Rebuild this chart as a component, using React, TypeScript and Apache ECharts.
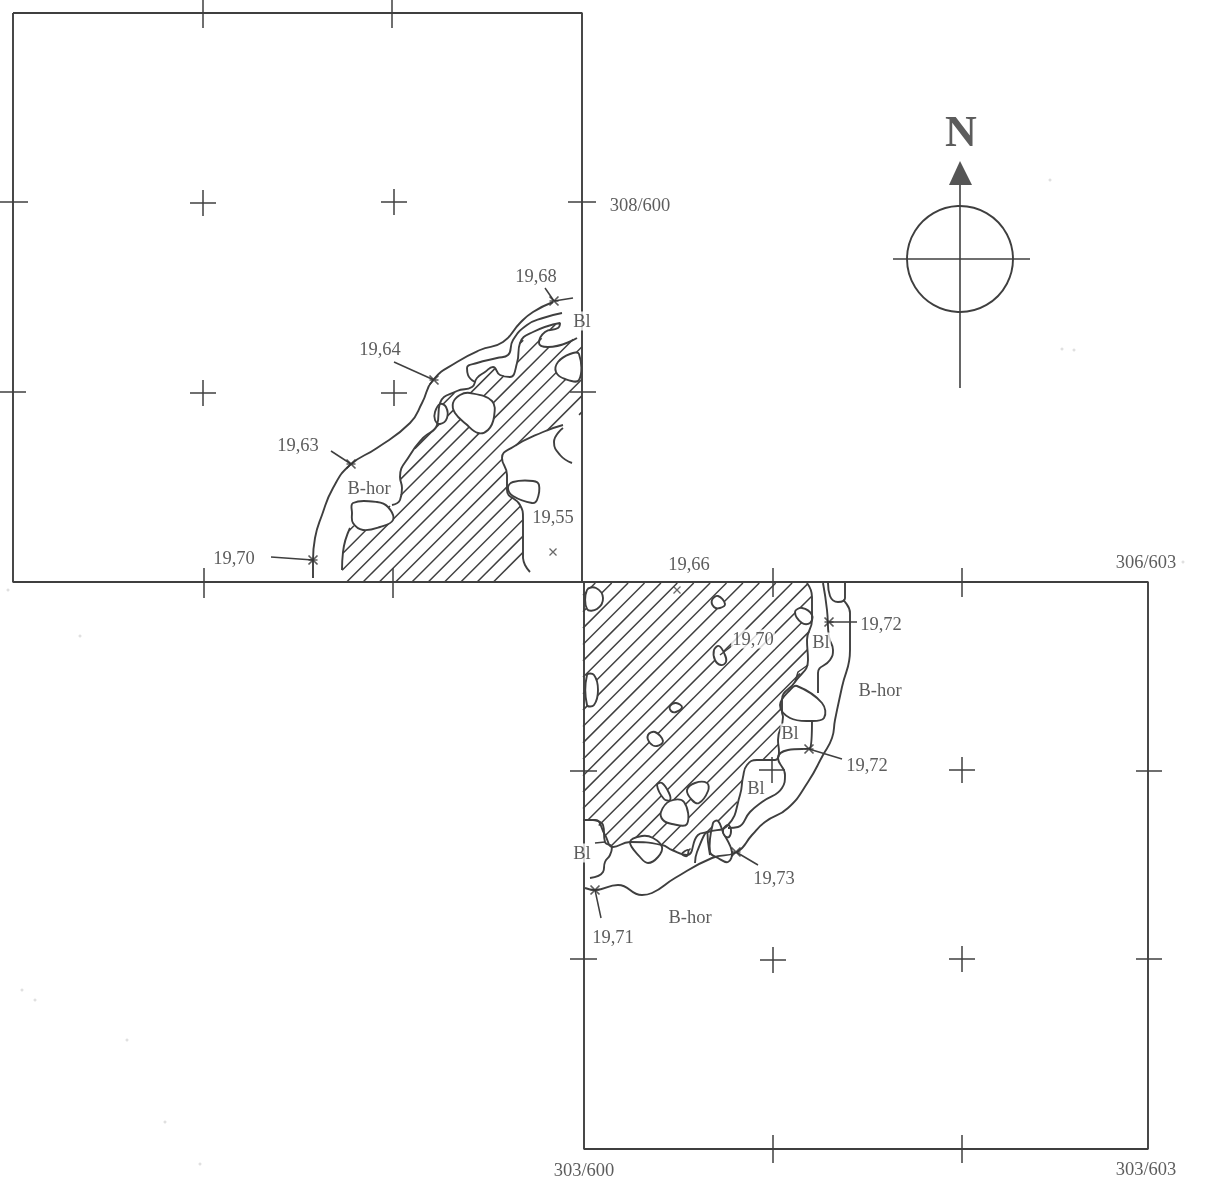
import React, { useEffect, useRef } from "react";
import * as echarts from "echarts";

type P = [number, number];
const INK = "#3f3f3f";
const WIDTH = 1207;
const HEIGHT = 1185;

// Plan coordinates, x to the east, y down the sheet.
const FRAME_NW: P[] = [[13, 13], [582, 13], [582, 582], [13, 582], [13, 13]];
const FRAME_SE: P[] = [[582, 582], [1148, 582], [1148, 1149], [584, 1149], [584, 582]];
const TICKS_V: number[][] = [
  [203, 0, 28], [392, 0, 28], [204, 568, 598], [393, 568, 598],
  [773, 568, 597], [962, 568, 597], [773, 1135, 1163], [962, 1135, 1163],
];
const TICKS_H: number[][] = [
  [202, 0, 28], [392, 0, 26], [202, 568, 596], [392, 570, 596],
  [771, 570, 597], [959, 570, 597], [771, 1136, 1162], [959, 1136, 1162],
];
const CROSSES: P[] = [
  [203, 203], [394, 202], [203, 393], [394, 393],
  [772, 770], [962, 770], [773, 960], [962, 959],
];

const NW_LEFT_EDGE: P[] = [[342, 570], [343, 552], [350, 528]];
const NW_UPPER_EDGE: P[] = [
  [392, 505], [400, 500], [402, 488], [400, 477], [410, 455], [423, 438], [437, 425], [440, 403],
  [457, 391], [472, 387], [477, 378], [485, 372], [493, 367], [500, 375], [510, 377], [517, 363],
  [520, 343], [533, 332], [560, 323], [558, 328], [545, 332], [539, 343], [548, 347], [577, 338],
];
const NW_RIGHT_EDGE: P[] = [
  [563, 425], [543, 432], [513, 447], [502, 458], [507, 475], [507, 490], [520, 505], [523, 518], [523, 558],
];
const NW_HATCH: P[] = [
  [347, 582], ...NW_LEFT_EDGE, ...NW_UPPER_EDGE, [582, 338], [582, 413], ...NW_RIGHT_EDGE, [508, 582],
];
const NW_OUTER: P[] = [
  [313, 578], [313, 560], [315, 538], [322, 515], [333, 488], [350, 465], [377, 448], [410, 423],
  [422, 403], [433, 380], [457, 362], [480, 350], [503, 342], [520, 323], [533, 312], [553, 302],
];
const NW_BL_LINE: P[] = [
  [562, 313], [543, 318], [527, 325], [513, 340], [508, 355], [497, 358], [477, 363], [467, 368], [468, 375], [475, 382],
];
const NW_NOTCH: P[] = [[563, 428], [554, 442], [560, 455], [572, 463]];
const NW_TAIL: P[] = [[523, 558], [525, 565], [530, 572]];

const SE_RIGHT_EDGE: P[] = [
  [807, 583], [812, 597], [812, 620], [807, 640], [808, 660], [795, 682], [782, 700], [782, 712], [783, 717],
  [778, 740], [779, 752], [775, 760], [757, 760], [747, 765], [743, 777], [740, 795], [728, 825], [708, 832],
  [698, 835], [687, 855], [672, 850], [662, 845], [630, 842], [613, 847], [605, 835], [595, 820], [583, 820],
];
const SE_HATCH: P[] = [[583, 583], ...SE_RIGHT_EDGE];
const SE_OUTER: P[] = [
  [843, 600], [850, 613], [850, 650], [842, 687], [835, 720], [832, 738], [823, 755], [808, 782], [788, 808],
  [765, 822], [752, 835], [737, 852], [712, 858], [675, 878], [652, 893], [642, 895], [618, 885], [595, 890], [585, 888],
];
const SE_INNER_TOP: P[] = [
  [823, 583], [827, 610], [829, 637], [833, 650], [830, 660], [818, 673], [818, 693],
];
const SE_INNER_LOW: P[] = [
  [812, 720], [810, 748], [788, 750], [778, 758], [785, 775], [782, 788], [762, 802], [750, 812], [738, 827], [728, 828],
];
const SE_ARCH: P[] = [[828, 583], [830, 596], [838, 602], [845, 598], [845, 583]];
const SE_BL_WEST: P[] = [
  [593, 820], [603, 825], [605, 842], [612, 847], [610, 855], [605, 862], [603, 872], [590, 878],
];
const SE_BL_STUB: P[] = [[595, 843], [605, 842]];
const SE_SLIVER: P[] = [[795, 682], [798, 672], [808, 665]];
const SE_STRAND: P[] = [[695, 863], [697, 852], [707, 832], [708, 842], [710, 855]];

const STONES: P[][] = [
  [[353, 503], [377, 502], [388, 507], [393, 520], [380, 527], [363, 530], [353, 523], [352, 513]],
  [[453, 403], [460, 395], [470, 393], [492, 401], [494, 417], [488, 430], [478, 433], [466, 424], [455, 413]],
  [[435, 412], [440, 404], [446, 407], [447, 418], [440, 424], [435, 420]],
  [[579, 354], [570, 354], [558, 362], [556, 372], [565, 379], [579, 380]],
  [[508, 488], [513, 482], [533, 481], [539, 485], [537, 500], [532, 503], [513, 496]],
  [[587, 590], [596, 588], [603, 598], [597, 609], [587, 609]],
  [[587, 675], [594, 675], [598, 690], [594, 705], [587, 705]],
  [[712, 600], [718, 596], [725, 604], [720, 608], [714, 607]],
  [[795, 612], [802, 608], [812, 615], [810, 623], [802, 623]],
  [[714, 650], [719, 646], [725, 655], [726, 662], [721, 665], [715, 660]],
  [[670, 706], [676, 703], [682, 707], [676, 712], [671, 711]],
  [[648, 735], [655, 732], [663, 741], [657, 746], [650, 743]],
  [[780, 705], [790, 690], [797, 686], [822, 703], [824, 718], [810, 721], [790, 718]],
  [[657, 785], [662, 783], [669, 793], [670, 800], [664, 799]],
  [[661, 812], [670, 801], [684, 802], [687, 824], [672, 824], [663, 820]],
  [[687, 790], [695, 783], [707, 783], [708, 791], [699, 803], [692, 800]],
  [[630, 842], [642, 836], [653, 838], [662, 847], [658, 857], [648, 863], [640, 857]],
  [[710, 852], [713, 823], [718, 821], [723, 832], [732, 852], [728, 862], [718, 858]],
  [[723, 830], [728, 825], [731, 830], [729, 837], [725, 836]],
  [[682, 854], [688, 850], [687, 856]],
];

const LEADERS: P[][] = [
  [[545, 288], [554, 301]], [[554, 301], [573, 298]],
  [[394, 362], [434, 380]], [[331, 451], [351, 464]],
  [[271, 557], [313, 560]],
  [[829, 622], [857, 622]], [[809, 749], [842, 759]],
  [[736, 852], [758, 865]], [[595, 890], [601, 918]],
  [[720, 655], [733, 645]],
];
const STAR_MARKS: P[] = [
  [554, 301], [434, 380], [351, 464], [313, 560], [829, 622], [809, 749], [736, 852], [595, 890],
];
const CROSS_MARKS: P[] = [[553, 552], [677, 590]];

const LABEL_TEXTS = [
  "19,68", "19,64", "19,63", "19,70", "19,55", "19,66", "19,70", "19,72", "19,72", "19,73", "19,71",
  "Bl", "Bl", "Bl", "Bl", "Bl", "B-hor", "B-hor", "B-hor",
  "308/600", "306/603", "303/600", "303/603",
];
const LABEL_XY: P[] = [
  [536, 276], [380, 349], [298, 445], [234, 558], [553, 517], [689, 564], [753, 639], [881, 624], [867, 765], [774, 878], [613, 937],
  [582, 321], [821, 642], [790, 733], [756, 788], [582, 853], [369, 488], [880, 690], [690, 917],
  [640, 205], [1146, 562], [584, 1170], [1146, 1169],
];

const COMPASS_CENTER: P = [960, 259];
const COMPASS_RADIUS_PT: P = [1013, 259];
const COMPASS_V: P[] = [[960, 185], [960, 388]];
const COMPASS_H: P[] = [[893, 259], [1030, 259]];
const ARROW: P[] = [[960, 161], [949, 185], [972, 185]];
const NORTH_XY: P = [961, 131];
const SPECKS: P[] = [
  [1050, 180], [1062, 349], [1074, 350], [127, 1040], [22, 990], [35, 1000], [165, 1122], [200, 1164], [80, 636], [8, 590], [1183, 562],
];

const STAR_SYMBOL = "path://M0 0L10 10M10 0L0 10M0 5L10 5";
const X_SYMBOL = "path://M0 0L10 10M10 0L0 10";

function hatchSegments(poly: P[], c0: number, step: number): [P, P][] {
  const out: [P, P][] = [];
  const sums = poly.map((p) => p[0] + p[1]);
  const lo = Math.min(...sums);
  const hi = Math.max(...sums);
  const first = c0 + Math.ceil((lo - c0) / step) * step;
  for (let c = first; c <= hi; c += step) {
    const hits: number[] = [];
    for (let i = 0; i < poly.length; i++) {
      const a = poly[i];
      const b = poly[(i + 1) % poly.length];
      const sa = a[0] + a[1] - c;
      const sb = b[0] + b[1] - c;
      if (sa < 0 !== sb < 0) {
        const t = sa / (sa - sb);
        hits.push(a[0] + (b[0] - a[0]) * t);
      }
    }
    hits.sort((m, n) => m - n);
    for (let i = 0; i + 1 < hits.length; i += 2) {
      out.push([[hits[i], c - hits[i]], [hits[i + 1], c - hits[i + 1]]]);
    }
  }
  return out;
}

function lineSeries(pts: P[], smooth: number | boolean, width = 1.9, color = INK) {
  return {
    type: "line",
    data: pts,
    smooth,
    symbol: "none",
    silent: true,
    clip: false,
    z: 4,
    lineStyle: { color, width },
    animation: false,
  };
}

function hatchSeries(poly: P[], c0: number, step: number) {
  const segs = hatchSegments(poly, c0, step);
  return {
    type: "custom",
    coordinateSystem: "cartesian2d",
    data: [[0, 0]],
    silent: true,
    clip: false,
    z: 1,
    renderItem: (_: any, api: any) => ({
      type: "group",
      children: segs.map(([a, b]) => {
        const p = api.coord(a);
        const q = api.coord(b);
        return {
          type: "line",
          shape: { x1: p[0], y1: p[1], x2: q[0], y2: q[1] },
          style: { stroke: INK, lineWidth: 1.5 },
        };
      }),
    }),
  };
}

function buildOption() {
  const segs: P[][] = [
    ...TICKS_V.map((t): P[] => [[t[0], t[1]], [t[0], t[2]]]),
    ...TICKS_H.map((t): P[] => [[t[1], t[0]], [t[2], t[0]]]),
    ...CROSSES.flatMap(([x, y]): P[][] => [
      [[x - 13, y], [x + 13, y]],
      [[x, y - 13], [x, y + 13]],
    ]),
  ];
  const curves: P[][] = [
    NW_LEFT_EDGE, NW_UPPER_EDGE, NW_RIGHT_EDGE, NW_OUTER, NW_BL_LINE, NW_NOTCH, NW_TAIL,
    SE_RIGHT_EDGE, SE_OUTER, SE_INNER_TOP, SE_INNER_LOW, SE_ARCH, SE_BL_WEST, SE_STRAND,
  ];
  const straight: P[][] = [...LEADERS, SE_BL_STUB, SE_SLIVER];
  return {
    animation: false,
    backgroundColor: "#ffffff",
    grid: { left: 0, right: 0, top: 0, bottom: 0 },
    xAxis: { type: "value", min: 0, max: WIDTH, show: false },
    yAxis: { type: "value", min: 0, max: HEIGHT, inverse: true, show: false },
    series: [
      hatchSeries(NW_HATCH, 928.7, 16.3),
      hatchSeries(SE_HATCH, 1194.7, 16.4),
      {
        type: "custom",
        coordinateSystem: "cartesian2d",
        data: STONES.map((_, i) => [i, 0]),
        silent: true,
        clip: false,
        z: 3,
        renderItem: (_: any, api: any) => {
          const pts = STONES[api.value(0)].map((p) => api.coord(p));
          return {
            type: "polygon",
            shape: { points: pts, smooth: 0.4 },
            style: { fill: "#ffffff", stroke: INK, lineWidth: 1.9 },
          };
        },
      },
      lineSeries(FRAME_NW, false),
      lineSeries(FRAME_SE, false),
      ...segs.map((s) => lineSeries(s, false, 1.5)),
      ...curves.map((c) => lineSeries(c, 0.5)),
      ...straight.map((s) => lineSeries(s, false, 1.5)),
      lineSeries(COMPASS_V, false, 1.6),
      lineSeries(COMPASS_H, false, 1.6),
      {
        type: "custom",
        coordinateSystem: "cartesian2d",
        data: [[0, 0]],
        silent: true,
        clip: false,
        z: 4,
        renderItem: (_: any, api: any) => {
          const c = api.coord(COMPASS_CENTER);
          const e = api.coord(COMPASS_RADIUS_PT);
          return {
            type: "group",
            children: [
              {
                type: "circle",
                shape: { cx: c[0], cy: c[1], r: e[0] - c[0] },
                style: { fill: "none", stroke: INK, lineWidth: 1.9 },
              },
              {
                type: "polygon",
                shape: { points: ARROW.map((p) => api.coord(p)) },
                style: { fill: "#555555" },
              },
            ],
          };
        },
      },
      {
        type: "scatter",
        data: STAR_MARKS,
        symbol: STAR_SYMBOL,
        symbolSize: 9,
        silent: true,
        z: 5,
        itemStyle: { color: "none", borderColor: "#333333", borderWidth: 1.7 },
      },
      {
        type: "scatter",
        data: CROSS_MARKS,
        symbol: X_SYMBOL,
        symbolSize: 7,
        silent: true,
        z: 5,
        itemStyle: { color: "none", borderColor: "#444444", borderWidth: 1.3 },
      },
      {
        type: "scatter",
        data: SPECKS,
        symbolSize: 3,
        silent: true,
        z: 0,
        itemStyle: { color: "#d8d8d8" },
      },
      {
        type: "scatter",
        data: LABEL_TEXTS.map((name, i) => ({ name, value: LABEL_XY[i] })),
        symbolSize: 1,
        silent: true,
        z: 6,
        itemStyle: { color: "transparent" },
        label: {
          show: true,
          position: "inside",
          formatter: (p: any) => p.name,
          fontFamily: "Liberation Serif",
          fontSize: 18.5,
          color: "#333333",
          align: "center",
          verticalAlign: "middle",
          backgroundColor: "#ffffff",
          padding: [0, 1],
        },
      },
      {
        type: "scatter",
        data: [{ name: "N", value: NORTH_XY }],
        symbolSize: 1,
        silent: true,
        z: 6,
        itemStyle: { color: "transparent" },
        label: {
          show: true,
          position: "inside",
          formatter: "N",
          fontFamily: "Liberation Serif",
          fontWeight: "bold",
          fontSize: 44,
          color: "#333333",
          align: "center",
          verticalAlign: "middle",
        },
      },
    ],
  };
}

export default function App() {
  const ref = useRef<HTMLDivElement>(null);
  useEffect(() => {
    if (!ref.current) return;
    const chart = echarts.init(ref.current, undefined, { renderer: "svg" });
    chart.setOption(buildOption() as any);
    return () => chart.dispose();
  }, []);
  return (
    <div
      ref={ref}
      style={{
        position: "absolute",
        left: 0,
        top: 0,
        width: WIDTH,
        height: HEIGHT,
        overflow: "hidden",
        filter: "blur(0.5px)",
      }}
    />
  );
}
